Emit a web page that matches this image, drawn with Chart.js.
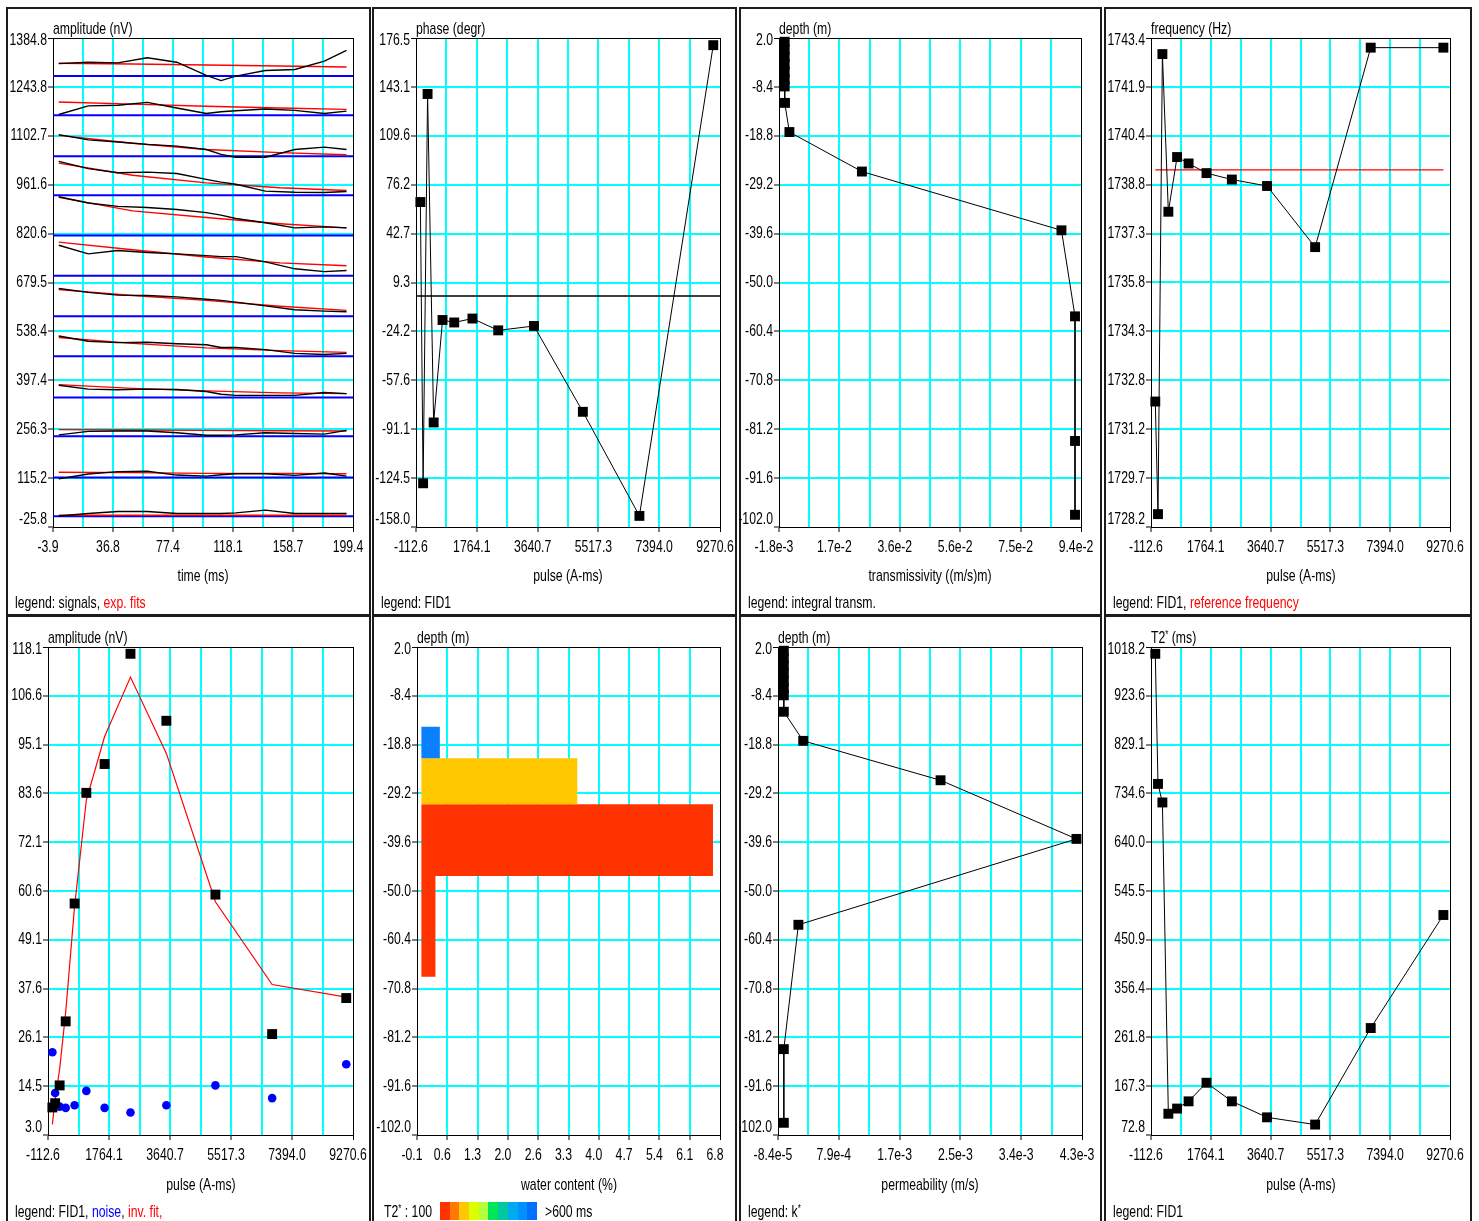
<!DOCTYPE html>
<html>
<head>
<meta charset="utf-8">
<title>MRS inversion panels</title>
<script src="https://cdn.jsdelivr.net/npm/chart.js@4.4.1/dist/chart.umd.min.js"></script>
<style>
  html, body { margin: 0; padding: 0; background: #fff; }
  body { position: relative; width: 1479px; height: 1221px; overflow: hidden;
         font-family: "Liberation Sans", Arial, sans-serif; }
  .frame { position: absolute; box-sizing: border-box; border: 2px solid #1c1c1c; background: #fff; }
  canvas.c { position: absolute; }
  .t { position: absolute; font-size: 17px; line-height: 17px; height: 17px; color: #000; white-space: nowrap;
       transform-origin: left center; transform: scaleX(0.72); }
  .t.mid { transform-origin: center center; transform: translateX(-50%) scaleX(0.72); }
  .t sup { font-size: 11px; line-height: 0; vertical-align: 5px; }
  .red { color: #ff0000; }
  .blue { color: #0000ff; }
  .cbar { position: absolute; display: flex; }
  .cbar span { display: block; width: 9.7px; height: 18px; }
</style>
</head>
<body>
<script>
// ---------------- DATA ----------------
// Panel 1: signals (amplitude above each trace's baseline, nV) and exponential fits
const sigTime = [0, 20, 40, 60, 80, 100, 110, 120, 140, 160, 180, 195];
const sigBase = [5, 117, 236, 348, 467, 582, 699, 815, 931, 1044, 1162, 1275];
const sig01 = [1, 8, 14, 14, 8, 8, 8, 10, 18, 8, 8, 8];
const sig02 = [-4, 10, 17, 18, 7, 4, 8, 11, 11, 6, 13, 4];
const sig03 = [4, 14, 15, 15, 10, 3, 3, 4, 10, 8, 6, 17];
const sig04 = [35, 24, 22, 24, 23, 17, 9, 6, 6, 6, 14, 11];
const sig05 = [58, 43, 39, 40, 36, 33, 25, 25, 19, 8, 5, 8];
const sig06 = [80, 69, 61, 60, 56, 49, 46, 41, 30, 19, 15, 13];
const sig07 = [88, 63, 73, 67, 63, 58, 55, 55, 40, 20, 12, 15];
const sig08 = [112, 94, 84, 81, 75, 66, 59, 49, 37, 22, 25, 22];
const sig09 = [98, 77, 65, 67, 63, 46, 38, 32, 12, 9, 8, 11];
const sig10 = [62, 47, 41, 34, 29, 19, 5, -3, -3, 19, 26, 19];
const sig11 = [2, 27, 29, 37, 21, 5, 10, 13, 18, 14, 5, 12];
const sig12 = [36, 40, 38, 53, 40, 2, -13, 0, 16, 19, 43, 74];
const fitTime = [0, 50, 100, 150, 195];
const fit01 = [3, 3, 3, 3, 3];
const fit02 = [15, 14, 12, 12, 11];
const fit03 = [19, 18, 17, 16, 15];
const fit04 = [37, 26, 19, 13, 11];
const fit05 = [54, 37, 24, 16, 11];
const fit06 = [77, 60, 46, 29, 17];
const fit07 = [97, 75, 54, 37, 29];
const fit08 = [110, 71, 52, 34, 22];
const fit09 = [93, 58, 36, 22, 14];
const fit10 = [60, 37, 19, 10, 4];
const fit11 = [38, 32, 26, 21, 17];
const fit12 = [37, 35, 32, 29, 26];

// Pulse-moment panels (FID1)
const pulse     = [22, 107, 245, 432, 706, 1067, 1629, 2425, 3529, 5038, 6783, 9063];
const phase     = [64.3, -128.1, 138.2, -86.5, -16.4, -18.1, -15.4, -23.5, -20.5, -79.2, -150.4, 171.6];
const phaseRef  = 0;
const freq      = [1732.1, 1728.6, 1742.9, 1738.0, 1739.7, 1739.5, 1739.2, 1739.0, 1738.8, 1736.9, 1743.1, 1743.1];
const refFreq   = 1739.3;
const ampFID    = [9.5, 10.5, 14.7, 29.8, 57.6, 83.7, 90.5, 116.5, 100.7, 59.7, 26.8, 35.3];
const ampNoise  = [22.5, 12.9, 9.7, 9.4, 10.0, 13.4, 9.4, 8.3, 10.0, 14.7, 11.7, 19.7];
const ampInvFit = [5.5, 11.5, 18.5, 32, 57, 82, 97, 111, 93, 58, 38.5, 35.5];
const t2star    = [1005, 753, 717, 114, 124, 138, 174, 138, 107, 93, 280, 499];

// Depth model panels
const layerDepth = [1.2, -0.4, -2.0, -3.6, -5.2, -6.8, -8.3, -11.8, -18.0, -26.4, -38.9, -57.2, -83.7, -99.4];
const transm     = [0, 0, 0, 0, 0, 0, 0, 0.0001, 0.0015, 0.0245, 0.0878, 0.0921, 0.0921, 0.0921];
const perm       = [0, 0, 0, 0, 0, 0, 0, 0, 0.00028, 0.00226, 0.00422, 0.00021, 0, 0];
const wcTop      = [-15.0, -21.7, -31.5, -46.8];
const wcBottom   = [-21.7, -31.5, -46.8, -68.3];
const wcValue    = [0.42, 3.55, 6.64, 0.32];

// Tick labels
const p1X    = ['-3.9', '36.8', '77.4', '118.1', '158.7', '199.4'];
const p1Y    = ['-25.8', '115.2', '256.3', '397.4', '538.4', '679.5', '820.6', '961.6', '1102.7', '1243.8', '1384.8'];
const pulseX = ['-112.6', '1764.1', '3640.7', '5517.3', '7394.0', '9270.6'];
const phaseY = ['-158.0', '-124.5', '-91.1', '-57.6', '-24.2', '9.3', '42.7', '76.2', '109.6', '143.1', '176.5'];
const depthY = ['-102.0', '-91.6', '-81.2', '-70.8', '-60.4', '-50.0', '-39.6', '-29.2', '-18.8', '-8.4', '2.0'];
const transX = ['-1.8e-3', '1.7e-2', '3.6e-2', '5.6e-2', '7.5e-2', '9.4e-2'];
const freqY  = ['1728.2', '1729.7', '1731.2', '1732.8', '1734.3', '1735.8', '1737.3', '1738.8', '1740.4', '1741.9', '1743.4'];
const ampY   = ['3.0', '14.5', '26.1', '37.6', '49.1', '60.6', '72.1', '83.6', '95.1', '106.6', '118.1'];
const wcX    = ['-0.1', '0.6', '1.3', '2.0', '2.6', '3.3', '4.0', '4.7', '5.4', '6.1', '6.8'];
const permX  = ['-8.4e-5', '7.9e-4', '1.7e-3', '2.5e-3', '3.4e-3', '4.3e-3'];
const t2Y    = ['72.8', '167.3', '261.8', '356.4', '450.9', '545.5', '640.0', '734.6', '829.1', '923.6', '1018.2'];

// ---------------- STYLE ----------------
const FONT = '"Liberation Sans", Arial, sans-serif';
const SX = 0.72; // narrow, tall lettering like the original
const wcColors = ['#0a80ff', '#ffc800', '#ff3300', '#ff3300'];
const t2ScaleColors = ['#ff3300', '#ff7a00', '#ffc800', '#dcff00', '#b4ff3c', '#00e65a', '#00c8a0', '#00aaf0', '#0090ff', '#0070ff'];

// Condensed lettering for the chart's own text; first/last y labels nudged inward as in the original
const narrowText = {
  id: 'narrowText',
  beforeDraw(chart) {
    const ctx = chart.ctx;
    if (ctx.__narrow) return;
    ctx.__narrow = true;
    const orig = ctx.fillText;
    ctx.fillText = function (t, x, y, mw) {
      const a = chart.chartArea;
      const m = this.getTransform();
      const ax = m.a * x + m.c * y + m.e;
      const ay = m.b * x + m.d * y + m.f;
      if (this.textAlign === 'right' && ax < a.left) {
        if (Math.abs(ay - a.bottom) < 2) y -= 8;
        else if (Math.abs(ay - a.top) < 2) y += 2;
      }
      this.save();
      this.translate(x, y);
      this.scale(SX, 1);
      if (mw === undefined) orig.call(this, t, 0, 0); else orig.call(this, t, 0, 0, mw / SX);
      this.restore();
    };
  }
};

// ---------------- HELPERS ----------------
function tickVals(labels) {
  const a = parseFloat(labels[0]), b = parseFloat(labels[labels.length - 1]);
  return Array.from({length: 11}, (_, i) => a + (b - a) * i / 10);
}
function axis(labels, every, horizontal, size) {
  const vals = tickVals(labels);
  return {
    type: 'linear', min: vals[0], max: vals[10],
    afterBuildTicks: s => { s.ticks = vals.map(v => ({value: v})); },
    afterFit: s => { if (horizontal) s.height = size; else s.width = size; },
    ticks: {
      autoSkip: false, maxRotation: 0, minRotation: 0, color: '#000',
      font: {family: FONT, size: 17}, padding: horizontal ? 5 : 1,
      labelOffset: horizontal ? -5 : 0,
      callback: (v, i) => (i % every === 0 ? labels[i / every] : '')
    },
    grid: {
      color: c => c.index === 0 ? 'rgba(0,0,0,0)' : (c.index === 10 ? '#000000' : '#00ffff'),
      lineWidth: c => c.index === 10 ? 1 : 2,
      tickColor: c => (c.index % every === 0 ? '#000000' : 'rgba(0,0,0,0)'),
      tickLength: 5, tickWidth: 1
    },
    border: {display: true, color: '#000', width: 1}
  };
}
const pts = (xs, ys) => xs.map((x, i) => ({x: x, y: ys[i]}));
const lineDS = (data, color, width) => ({data, showLine: true, borderColor: color, borderWidth: width,
  pointRadius: 0, pointHoverRadius: 0, fill: false});
const squareDS = (data, withLine) => ({data, showLine: withLine, borderColor: '#000', borderWidth: 1,
  pointStyle: 'rect', pointRadius: 7, pointHoverRadius: 7, pointBackgroundColor: '#000',
  pointBorderColor: '#000', pointBorderWidth: 0, clip: false});

function frameDiv(f) {
  const d = document.createElement('div');
  d.className = 'frame';
  d.style.left = f.l + 'px'; d.style.top = f.t + 'px';
  d.style.width = (f.r - f.l) + 'px'; d.style.height = (f.b - f.t) + 'px';
  document.body.appendChild(d);
}
function txt(html, x, cy, center) {
  const d = document.createElement('div');
  d.className = center ? 't mid' : 't';
  d.innerHTML = html;
  d.style.left = x + 'px'; d.style.top = (cy - 8.5) + 'px';
  document.body.appendChild(d);
  return d;
}
function panel(p) {
  const cv = document.createElement('canvas');
  cv.className = 'c';
  const w = p.plot.r + 40 - p.frame.l, h = p.frame.b - p.frame.t;
  cv.width = w; cv.height = h;
  cv.style.left = p.frame.l + 'px'; cv.style.top = p.frame.t + 'px';
  cv.style.width = w + 'px'; cv.style.height = h + 'px';
  document.body.appendChild(cv);
  new Chart(cv, {
    type: 'scatter',
    data: {datasets: p.datasets},
    options: {
      responsive: false, animation: false, devicePixelRatio: 1, events: [],
      layout: {padding: {left: 0, right: 40, top: p.plot.t - p.frame.t, bottom: 0}},
      plugins: {legend: {display: false}, tooltip: {enabled: false}, title: {display: false}},
      scales: {
        x: axis(p.xLabels, p.xEvery, true, h - (p.plot.b - p.frame.t)),
        y: axis(p.yLabels, 1, false, p.plot.l - p.frame.l)
      }
    },
    plugins: [narrowText]
  });
  txt(p.yTitle, p.plot.l, p.plot.t - 10, false);
  if (p.xTitle) txt(p.xTitle, (p.plot.l + p.plot.r) / 2, p.frame.t < 300 ? 575 : 1184, true);
  if (p.legend) txt(p.legend, p.frame.l + 9, p.frame.t < 300 ? 602 : 1211, false);
}

// ---------------- LAYOUT ----------------
const TOP = {t: 7, b: 616}, BOT = {t: 615, b: 1221};
const COLS = [{l: 6, r: 371}, {l: 372, r: 737}, {l: 739, r: 1102}, {l: 1104, r: 1472}];
const frames = [];
COLS.forEach(c => frames.push({l: c.l, r: c.r, t: TOP.t, b: TOP.b}));
COLS.forEach(c => frames.push({l: c.l, r: c.r, t: BOT.t, b: BOT.b + 8}));
frames.forEach(frameDiv);
const fr = i => ({l: frames[i].l, r: frames[i].r, t: frames[i].t, b: i < 4 ? TOP.b : BOT.b});

// Panel 1: signals
const sigs = [sig01, sig02, sig03, sig04, sig05, sig06, sig07, sig08, sig09, sig10, sig11, sig12];
const fits = [fit01, fit02, fit03, fit04, fit05, fit06, fit07, fit08, fit09, fit10, fit11, fit12];
const p1Blk = sigs.map((s, k) => lineDS(pts(sigTime, s.map(v => v + sigBase[k])), '#000000', 1.4));
const p1Red = fits.map((s, k) => lineDS(pts(fitTime, s.map(v => v + sigBase[k])), '#ff0000', 1.4));
const p1Blu = sigBase.map(b => lineDS([{x: parseFloat(p1X[0]), y: b}, {x: parseFloat(p1X[5]), y: b}], '#0000ff', 2));
panel({frame: fr(0), plot: {l: 53, t: 38, r: 353, b: 527}, xLabels: p1X, xEvery: 2, yLabels: p1Y,
  datasets: [...p1Blk, ...p1Red, ...p1Blu],
  yTitle: 'amplitude (nV)', xTitle: 'time (ms)',
  legend: 'legend: signals, <span class="red">exp. fits</span>'});

// Panel 2: phase
panel({frame: fr(1), plot: {l: 416, t: 38, r: 720, b: 527}, xLabels: pulseX, xEvery: 2, yLabels: phaseY,
  datasets: [squareDS(pts(pulse, phase), true),
    lineDS([{x: parseFloat(pulseX[0]), y: phaseRef}, {x: parseFloat(pulseX[5]), y: phaseRef}], '#000000', 1.3)],
  yTitle: 'phase (degr)', xTitle: 'pulse (A-ms)', legend: 'legend: FID1'});

// Panel 3: transmissivity
panel({frame: fr(2), plot: {l: 779, t: 38, r: 1081, b: 527}, xLabels: transX, xEvery: 2, yLabels: depthY,
  datasets: [squareDS(pts(transm, layerDepth), true)],
  yTitle: 'depth (m)', xTitle: 'transmissivity ((m/s)m)', legend: 'legend: integral transm.'});

// Panel 4: frequency
panel({frame: fr(3), plot: {l: 1151, t: 38, r: 1450, b: 527}, xLabels: pulseX, xEvery: 2, yLabels: freqY,
  datasets: [squareDS(pts(pulse, freq), true),
    lineDS([{x: pulse[0], y: refFreq}, {x: pulse[pulse.length - 1], y: refFreq}], '#ff0000', 1.2)],
  yTitle: 'frequency (Hz)', xTitle: 'pulse (A-ms)',
  legend: 'legend: FID1, <span class="red">reference frequency</span>'});

// Panel 5: amplitudes
panel({frame: fr(4), plot: {l: 48, t: 647, r: 353, b: 1135}, xLabels: pulseX, xEvery: 2, yLabels: ampY,
  datasets: [squareDS(pts(pulse, ampFID), false),
    {data: pts(pulse, ampNoise), showLine: false, pointStyle: 'circle', pointRadius: 4.3, pointBackgroundColor: '#0000ff',
     pointBorderColor: '#0000ff', pointBorderWidth: 0, clip: false},
    lineDS(pts(pulse, ampInvFit), '#ff0000', 1.2)],
  yTitle: 'amplitude (nV)', xTitle: 'pulse (A-ms)',
  legend: 'legend: FID1, <span class="blue">noise</span>, <span class="red">inv. fit,</span>'});

// Panel 6: water content
panel({frame: fr(5), plot: {l: 417, t: 647, r: 720, b: 1135}, xLabels: wcX, xEvery: 1, yLabels: depthY,
  datasets: wcValue.map((v, i) => ({
    data: [{x: 0, y: wcTop[i]}, {x: v, y: wcTop[i]}, {x: v, y: wcBottom[i]}, {x: 0, y: wcBottom[i]}],
    showLine: true, fill: 'shape', backgroundColor: wcColors[i], borderColor: wcColors[i], borderWidth: 0,
    pointRadius: 0, pointHoverRadius: 0})),
  yTitle: 'depth (m)', xTitle: 'water content (%)', legend: null});
txt('T2<sup>*</sup> : 100', 384, 1211, false);
const cb = document.createElement('div');
cb.className = 'cbar'; cb.style.left = '440px'; cb.style.top = '1202px';
t2ScaleColors.forEach(c => { const s = document.createElement('span'); s.style.background = c; cb.appendChild(s); });
document.body.appendChild(cb);
txt('&gt;600 ms', 545, 1211, false);

// Panel 7: permeability
panel({frame: fr(6), plot: {l: 778, t: 647, r: 1082, b: 1135}, xLabels: permX, xEvery: 2, yLabels: depthY,
  datasets: [squareDS(pts(perm, layerDepth), true)],
  yTitle: 'depth (m)', xTitle: 'permeability (m/s)', legend: 'legend: k<sup>*</sup>'});

// Panel 8: T2*
panel({frame: fr(7), plot: {l: 1151, t: 647, r: 1450, b: 1135}, xLabels: pulseX, xEvery: 2, yLabels: t2Y,
  datasets: [squareDS(pts(pulse, t2star), true)],
  yTitle: 'T2<sup>*</sup> (ms)', xTitle: 'pulse (A-ms)', legend: 'legend: FID1'});
</script>
</body>
</html>
